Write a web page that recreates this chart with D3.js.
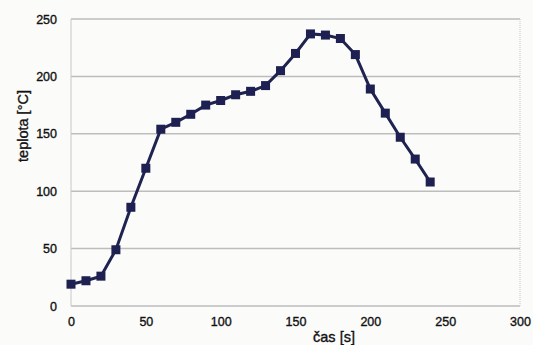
<!DOCTYPE html>
<html>
<head>
<meta charset="utf-8">
<script src="https://cdn.jsdelivr.net/npm/d3@7"></script>
<style>
body { margin: 0; background: #fbfbfa; }
svg { font-family: "Liberation Sans", Arial, sans-serif; }
text { fill: #111; stroke: #111; stroke-width: 0.35px; }
.tick text { font-size: 12.5px; }
</style>
</head>
<body>
<svg width="533" height="345"></svg>
<script>
var times = [0, 10, 20, 30, 40, 50, 60, 70, 80, 90, 100, 110, 120, 130, 140, 150, 160, 170, 180, 190, 200, 210, 220, 230, 240];
var temps = [19, 22, 26, 49, 86, 120, 154, 160, 167, 175, 179, 184, 187, 192, 205, 220, 237, 236, 233, 219, 189, 168, 147, 128, 108];
var xTicks = [0, 50, 100, 150, 200, 250, 300];
var yTicks = [0, 50, 100, 150, 200, 250];

var m = {top: 19, right: 13, bottom: 39, left: 71},
    w = 533 - m.left - m.right,
    h = 345 - m.top - m.bottom;

var svg = d3.select("svg");
var g = svg.append("g").attr("transform", "translate(" + m.left + "," + m.top + ")");

var x = d3.scaleLinear().domain([0, 300]).range([0, w]);
var y = d3.scaleLinear().domain([0, 250]).range([h, 0]);

// gridlines
g.selectAll("line.grid").data(yTicks).enter().append("line")
  .attr("class", "grid")
  .attr("x1", 0).attr("x2", w)
  .attr("y1", d => y(d)).attr("y2", d => y(d))
  .attr("stroke", "#bdbdbd").attr("stroke-width", 1.5);

g.append("line").attr("x1", w).attr("x2", w).attr("y1", 0).attr("y2", h)
  .attr("stroke", "#c8c8c8").attr("stroke-dasharray", "1,1");
g.append("line").attr("x1", 0).attr("x2", 0).attr("y1", 0).attr("y2", h)
  .attr("stroke", "#c8c8c8");

var xa = g.append("g").attr("transform", "translate(0," + h + ")")
  .call(d3.axisBottom(x).tickValues(xTicks).tickSize(0).tickPadding(11));
xa.select(".domain").remove();

var ya = g.append("g")
  .call(d3.axisLeft(y).tickValues(yTicks).tickSize(0).tickPadding(14));
ya.select(".domain").remove();

var line = d3.line().x((d, i) => x(times[i])).y(d => y(d));
g.append("path").datum(temps)
  .attr("d", line)
  .attr("fill", "none")
  .attr("stroke", "#1f2350")
  .attr("stroke-width", 3);

g.selectAll("rect.pt").data(temps).enter().append("rect")
  .attr("class", "pt")
  .attr("x", (d, i) => x(times[i]) - 4.5)
  .attr("y", d => y(d) - 4.5)
  .attr("width", 9).attr("height", 9)
  .attr("fill", "#1d2050");

svg.append("text")
  .attr("x", 334).attr("y", 342)
  .attr("text-anchor", "middle")
  .attr("font-size", 14.5)
  .text("čas [s]");

svg.append("text")
  .attr("transform", "translate(28,126) rotate(-90)")
  .attr("text-anchor", "middle")
  .attr("font-size", 14.5)
  .text("teplota [°C]");
</script>
</body>
</html>
